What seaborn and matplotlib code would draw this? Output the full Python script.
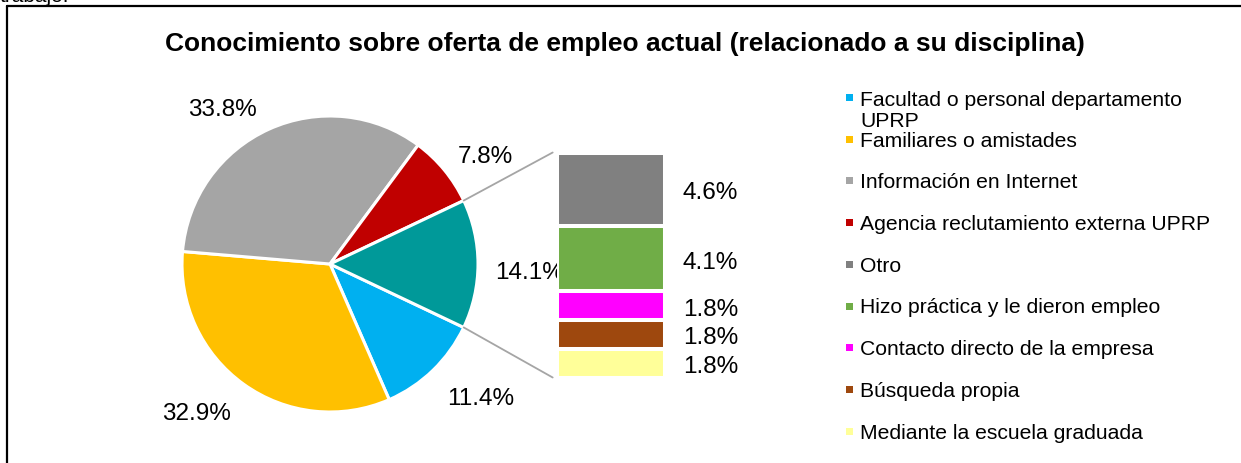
import numpy as np
import matplotlib
matplotlib.use('Agg')
import matplotlib.pyplot as plt
from matplotlib.patches import ConnectionPatch, Rectangle
from matplotlib.lines import Line2D
from matplotlib.transforms import offset_copy
import seaborn as sns

sns.set_theme(style='white')
plt.rcParams['font.family'] = ['Liberation Sans', 'DejaVu Sans']
plt.rcParams['text.color'] = 'black'

# -----------------------------
# Data
# -----------------------------
title = 'Conocimiento sobre oferta de empleo actual (relacionado a su disciplina)'

# main pie (the last slice is broken down in the bar)
pie_labels = ['Facultad o personal departamento\nUPRP', 'Familiares o amistades',
              'Información en Internet', 'Agencia reclutamiento externa UPRP', 'Otros']
pie_values = [11.4, 32.9, 33.8, 7.8, 14.1]
pie_colors = ['#00B0F0', '#FFC000', '#A5A5A5', '#C00000', '#009999']

# breakdown of the last slice, top to bottom
bar_labels = ['Otro', 'Hizo práctica y le dieron empleo', 'Contacto directo de la empresa',
              'Búsqueda propia', 'Mediante la escuela graduada']
bar_values = [4.6, 4.1, 1.8, 1.8, 1.8]
bar_colors = ['#808080', '#70AD47', '#FF00FF', '#9E480E', '#FFFF99']

# label placement around the pie (angle in degrees, distance in radii)
pie_label_pos = [(-41, 1.35), (227.5, 1.34), (124.4, 1.29), (35.4, 1.29), (-1.4, 1.35)]

W, H = 1241, 464
fig = plt.figure(figsize=(W / 100, H / 100), dpi=100)


def px(x0, y0, x1, y1):
    # pixel box (top-left origin) -> figure rect
    return [x0 / W, 1 - y1 / H, (x1 - x0) / W, (y1 - y0) / H]


# -----------------------------
# Pie
# -----------------------------
cx, cy, r = 330, 265, 148
pad = 1.1
ax = fig.add_axes(px(cx - r * pad, cy - r * pad, cx + r * pad, cy + r * pad))
other_angle = pie_values[-1] / sum(pie_values) * 360
start = -other_angle / 2
ax.pie(pie_values, colors=pie_colors, startangle=start, counterclock=False,
       wedgeprops=dict(edgecolor='white', linewidth=2.2))
ax.set_xlim(-pad, pad)
ax.set_ylim(-pad, pad)
ax.set_aspect('equal')
ax.axis('off')

lab_tr = offset_copy(ax.transData, fig=fig, y=-3, units='dots')
for v, (ang, dist) in zip(pie_values, pie_label_pos):
    a = np.deg2rad(ang)
    ax.text(dist * np.cos(a), dist * np.sin(a), f'{v:.1f}%', ha='center', va='center',
            fontsize=17.5, clip_on=False, transform=lab_tr)

# -----------------------------
# Stacked bar for "Otros"
# -----------------------------
bx = fig.add_axes(px(557, 153.5, 665, 378.5))
for i, c in enumerate(bar_colors):
    top = sum(bar_values[i:])
    sns.barplot(x=[0], y=[top], color=c, width=1, saturation=1, errorbar=None,
                edgecolor='white', linewidth=2.9, ax=bx)
bx.set_xlim(-0.5, 0.5)
bx.set_ylim(0, sum(bar_values))
bx.axis('off')

bar_tr = offset_copy(bx.transData, fig=fig, y=-3, units='dots')
for i, v in enumerate(bar_values):
    mid = sum(bar_values[i + 1:]) + v / 2
    bx.text(0.92, mid, f'{v:.1f}%', ha='center', va='center', fontsize=17.5,
            clip_on=False, transform=bar_tr)

# connector lines
for ang, yb in [(-start, sum(bar_values)), (start, 0)]:
    a = np.deg2rad(ang)
    con = ConnectionPatch(xyA=(np.cos(a), np.sin(a)), coordsA=ax.transData,
                          xyB=(-0.54, yb), coordsB=bx.transData,
                          color='#A5A5A5', linewidth=1.3)
    fig.add_artist(con)

# -----------------------------
# Legend (drawn like the Excel one)
# -----------------------------
leg_labels = pie_labels[:-1] + bar_labels
leg_colors = pie_colors[:-1] + bar_colors
for i, (lab, c) in enumerate(zip(leg_labels, leg_colors)):
    base = 105 + 41.7 * i
    fig.add_artist(Rectangle((846 / W, 1 - (base - 3) / H), 7 / W, 7 / H,
                             transform=fig.transFigure, facecolor=c, edgecolor='none'))
    # baseline alignment uses the last line, so push wrapped labels down
    extra = 22 * lab.count('\n')
    fig.text(860 / W, 1 - (base + extra) / H, lab, ha='left', va='baseline',
             fontsize=15.2, linespacing=1.16)

# -----------------------------
# Title, frame and cut text
# -----------------------------
fig.text(625 / W, 1 - 51 / H, title, ha='center', va='baseline', fontsize=19,
         fontweight='bold')
fig.text(0, 1 - 1.5 / H, 'trabajo.', ha='left', va='baseline', fontsize=15)
fig.add_artist(Line2D([7 / W, 1], [1 - 7 / H, 1 - 7 / H], transform=fig.transFigure,
                      color='black', linewidth=1.6))
fig.add_artist(Line2D([7 / W, 7 / W], [1 - 7 / H, 0], transform=fig.transFigure,
                      color='black', linewidth=1.6))

fig.savefig('out.png', dpi=100, facecolor='white')
